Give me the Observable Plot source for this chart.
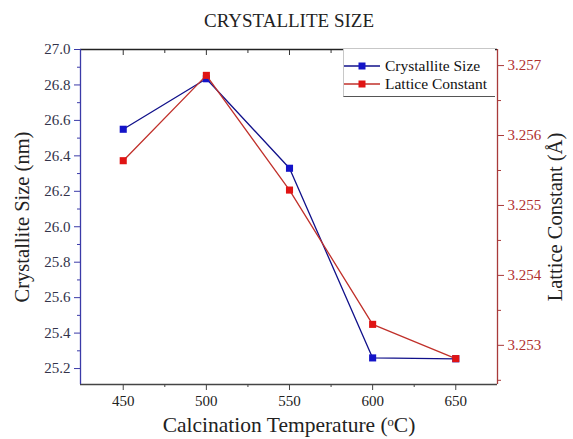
<!DOCTYPE html>
<html>
<head>
<meta charset="utf-8">
<script src="https://cdn.jsdelivr.net/npm/d3@7"></script>
<script src="https://cdn.jsdelivr.net/npm/@observablehq/plot@0.6"></script>
<style>
  body { margin: 0; background: #fff; }
  #wrap { position: relative; width: 573px; height: 439px; font-family: "Liberation Serif", "Times New Roman", serif; }
  #legend { position: absolute; left: 343px; top: 49px; width: 152px; height: 48px; box-sizing: border-box;
            border: 1px solid #c8c8c8; border-bottom: 1.5px solid #555; border-top: none; border-right: none; background: #fff; }
  .row { display: flex; align-items: center; height: 18px; font-size: 15.5px; color: #111; }
  .row svg { margin-right: 5px; }
</style>
</head>
<body>
<div id="wrap"></div>
<script>
const chartTitle = "CRYSTALLITE SIZE";
const xLabel = "Calcination Temperature (ᵒC)";
const yLeftLabel = "Crystallite Size (nm)";
const yRightLabel = "Lattice Constant (Å)";
const seriesNames = ["Crystallite Size", "Lattice Constant"];
const temperatures = [450, 500, 550, 600, 650];
const crystalliteSize = [26.55, 26.835, 26.33, 25.26, 25.255];
const latticeConstant = [3.25564, 3.25686, 3.25522, 3.25330, 3.25281];
const xTicks = [450, 500, 550, 600, 650];
const xMinorTicks = [475, 525, 575, 625];
const yLeftTicks = [25.2, 25.4, 25.6, 25.8, 26.0, 26.2, 26.4, 26.6, 26.8, 27.0];
const yLeftMinorTicks = [25.3, 25.5, 25.7, 25.9, 26.1, 26.3, 26.5, 26.7, 26.9];
const yRightTicks = [3.253, 3.254, 3.255, 3.256, 3.257];
const yRightMinorTicks = [3.2525, 3.2535, 3.2545, 3.2555, 3.2565];
const xDomain = [424.3, 675.1];
const yLeftDomain = [25.11, 27.0];
const yRightDomain = [3.25244, 3.25723];

const serif = "Liberation Serif, Times New Roman, serif";
const blue = "#1414c8", blueLine = "#10108a";
const red = "#e01414", redLine = "#c0302a";

const toLeft = v => yLeftDomain[0] + (v - yRightDomain[0]) * (yLeftDomain[1] - yLeftDomain[0]) / (yRightDomain[1] - yRightDomain[0]);
const fromLeft = v => yRightDomain[0] + (v - yLeftDomain[0]) * (yRightDomain[1] - yRightDomain[0]) / (yLeftDomain[1] - yLeftDomain[0]);

const sizeData = temperatures.map((t, i) => ({t, v: crystalliteSize[i]}));
const latticeData = temperatures.map((t, i) => ({t, v: toLeft(latticeConstant[i])}));

const chart = Plot.plot({
  width: 573,
  height: 439,
  marginLeft: 80,
  marginRight: 76,
  marginTop: 49,
  marginBottom: 55,
  style: {fontFamily: serif, fontSize: "15px", background: "#fff", color: "#222"},
  x: {domain: xDomain},
  y: {domain: yLeftDomain},
  marks: [
    Plot.ruleY([yLeftDomain[1]], {stroke: "#222", strokeWidth: 1.3}),
    Plot.ruleY([yLeftDomain[0]], {stroke: "#444", strokeWidth: 1.3}),
    Plot.ruleX([xDomain[0]], {stroke: "#3a3aa8", strokeWidth: 1.3}),
    Plot.ruleX([xDomain[1]], {stroke: "#a83a3a", strokeWidth: 1.3}),
    Plot.axisX({anchor: "bottom", ticks: xTicks, tickSize: 6, tickPadding: 5, fontSize: 15, fontFamily: serif, stroke: "#444", fill: "#222", tickFormat: d => String(d), label: null}),
    Plot.axisX({anchor: "bottom", ticks: xMinorTicks, tickSize: 3, tickFormat: () => "", stroke: "#444", label: null}),
    Plot.axisX({anchor: "top", ticks: xTicks, tickSize: 5, dy: 5, tickFormat: () => "", stroke: "#333", label: null}),
    Plot.axisX({anchor: "top", ticks: xMinorTicks, tickSize: 3, dy: 3, tickFormat: () => "", stroke: "#333", label: null}),
    Plot.axisY({anchor: "left", ticks: yLeftTicks, tickSize: 6, tickPadding: 4, fontSize: 15, fontFamily: serif, stroke: "#3a3aa8", fill: "#33334a", tickFormat: d => d.toFixed(1), label: null}),
    Plot.axisY({anchor: "left", ticks: yLeftMinorTicks, tickSize: 3, tickFormat: () => "", stroke: "#3a3aa8", label: null}),
    Plot.axisY({anchor: "right", ticks: yRightTicks.map(toLeft), tickSize: 6, tickPadding: 4, fontSize: 15, fontFamily: serif, stroke: "#a83a3a", fill: "#b03030", tickFormat: d => fromLeft(d).toFixed(3), label: null}),
    Plot.axisY({anchor: "right", ticks: yRightMinorTicks.map(toLeft), tickSize: 3, tickFormat: () => "", stroke: "#a83a3a", label: null}),
    Plot.line(sizeData, {x: "t", y: "v", stroke: blueLine, strokeWidth: 1.3}),
    Plot.dot(sizeData, {x: "t", y: "v", symbol: "square", r: 4, fill: blue, stroke: "none"}),
    Plot.line(latticeData, {x: "t", y: "v", stroke: redLine, strokeWidth: 1.3}),
    Plot.dot(latticeData, {x: "t", y: "v", symbol: "square", r: 4, fill: red, stroke: "none"}),
    Plot.text([chartTitle], {text: d => d, frameAnchor: "top", textAnchor: "middle", dy: -29, fontSize: 19, fontFamily: serif, fill: "#222", lineAnchor: "middle"}),
    Plot.text([xLabel], {text: d => d, frameAnchor: "bottom", textAnchor: "middle", dy: 41, fontSize: 21.5, fontFamily: serif, fill: "#222", lineAnchor: "middle"}),
    Plot.text([yLeftLabel], {text: d => d, frameAnchor: "left", textAnchor: "middle", dx: -58, rotate: -90, fontSize: 20.5, fontFamily: serif, fill: "#222", lineAnchor: "middle"}),
    Plot.text([yRightLabel], {text: d => d, frameAnchor: "right", textAnchor: "middle", dx: 58, rotate: -90, fontSize: 20.5, fontFamily: serif, fill: "#222", lineAnchor: "middle"})
  ]
});

const wrap = document.getElementById("wrap");
wrap.appendChild(chart);

const legend = document.createElement("div");
legend.id = "legend";
const legendColors = [[blueLine, blue], [redLine, red]];
legend.style.paddingTop = "8px";
seriesNames.forEach((name, i) => {
  const row = document.createElement("div");
  row.className = "row";
  row.innerHTML = `<svg width="36" height="10"><line x1="0" y1="5" x2="36" y2="5" stroke="${legendColors[i][0]}" stroke-width="1.5"/><rect x="14.5" y="1.5" width="7" height="7" fill="${legendColors[i][1]}"/></svg>`;
  const span = document.createElement("span");
  span.textContent = name;
  row.appendChild(span);
  legend.appendChild(row);
});
wrap.appendChild(legend);
</script>
</body>
</html>
